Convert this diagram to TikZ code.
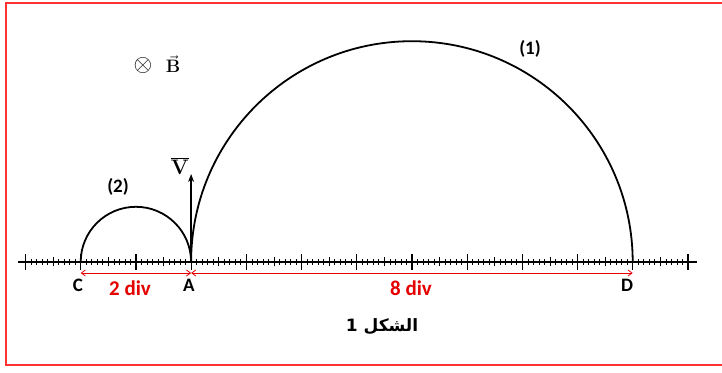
\documentclass[tikz,border=0pt]{standalone}
\usepackage{fix-cm}
\usepackage[no-math]{fontspec}
\setmainfont{Carlito}
\newfontfamily\arabicfont[Script=Arabic]{DejaVu Sans}
\TeXXeTstate=1
\usetikzlibrary{arrows.meta}
\begin{document}
\begin{tikzpicture}[
    x=1pt, y=1pt,
    every node/.style={font=\fontsize{19}{21}\selectfont\bfseries},
    orbit/.style={line width=1.8pt},
    bigtick/.style={line width=1.2pt},
    smalltick/.style={line width=0.6pt},
    dim/.style={red!90!black, line width=0.8pt, {Straight Barb[length=4pt,width=6pt]}-{Straight Barb[length=4pt,width=6pt]}},
    lbl/.style={red!90!black, font=\fontsize{21}{23}\selectfont\bfseries}
]
\useasboundingbox (0,0) rectangle (722,372);
\draw[red!80, line width=1.6pt] (6,369) rectangle (726,7);

% Axis with graduations
\draw[line width=1.6pt] (18,110) -- (697,110);
\foreach \k in {0,...,12}
  \draw[bigtick] ({25.5+55.2*\k},102) -- ({25.5+55.2*\k},118);
\foreach \k in {0,...,119}
  \draw[smalltick] ({25.5+5.52*\k},107) -- ({25.5+5.52*\k},113);
\foreach \k in {0,...,11}
  \draw[smalltick] ({25.5+55.2*\k+27.6},105.5) -- ({25.5+55.2*\k+27.6},114.5);

% Points
\coordinate (C) at (80.7,110);
\coordinate (A) at (191.1,110);
\coordinate (D) at (632.7,110);
\coordinate (Vtip) at (191.1,198);
\node (labC) at (78,87) {C};
\node (labA) at (189,87) {A};
\node (labD) at (627,87) {D};

% Trajectories
\draw[orbit] (A) arc[start angle=180, end angle=0, radius=220.8];
\draw[orbit] (C) arc[start angle=180, end angle=0, radius=55.2];
\node (n1) at (530,323) {(1)};
\node (n2) at (118,185) {(2)};

% Velocity
\draw[line width=1.8pt, -{Stealth[length=8pt,width=6pt]}] (A) -- (Vtip);
\node[font=\fontsize{21}{23}\selectfont] (V) at (180,206) {$\overline{\mathbf{V}}$};

% Field
\node[font=\fontsize{24}{26}\selectfont] (otimes) at (143,306) {$\otimes$};
\node[font=\fontsize{18}{20}\selectfont] (B) at (173,308) {$\vec{\mathbf{B}}$};

% Distances
\coordinate (C1) at (80.7,99);
\coordinate (A1) at (191.1,99);
\coordinate (D1) at (632.7,99);
\draw[dim] (C1) -- (A1);
\draw[dim] (A1) -- (D1);
\node[lbl] (d2) at (130,84) {2 div};
\node[lbl] (d8) at (411,84) {8 div};

% Caption
\node[font=\arabicfont\bfseries\fontsize{17}{19}\selectfont] (cap) at (382,45) {\beginR الشكل 1\endR};
\end{tikzpicture}
\end{document}
